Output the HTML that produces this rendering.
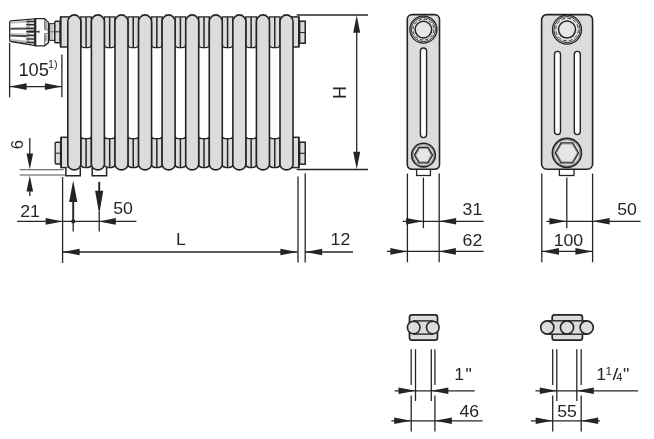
<!DOCTYPE html>
<html><head><meta charset="utf-8"><title>Radiator dimensions</title>
<style>
html,body{margin:0;padding:0;background:#fff;}
body{width:654px;height:439px;overflow:hidden;font-family:"Liberation Sans",sans-serif;}
svg{display:block}
svg{filter:grayscale(1)}
text{font-family:"Liberation Sans",sans-serif;fill:#262626;}
</style></head><body>
<svg width="654" height="439" viewBox="0 0 654 439">
<rect width="654" height="439" fill="#fff"/>
<rect x="60.6" y="16.9" width="9" height="30.1" fill="#dcdcdc" stroke="#262425" stroke-width="1.45"/>
<rect x="59.8" y="16.9" width="1.6" height="30.1" fill="#262425"/>
<rect x="61.2" y="137.3" width="9" height="30.299999999999983" fill="#dcdcdc" stroke="#262425" stroke-width="1.45"/>
<rect x="60.2" y="137.3" width="1.8" height="30.299999999999983" fill="#262425"/>
<rect x="290.02" y="16.9" width="8.8" height="30.1" fill="#dcdcdc" stroke="#262425" stroke-width="1.45"/>
<rect x="298.02" y="16.9" width="1.6" height="30.1" fill="#262425"/>
<rect x="290.02" y="137.3" width="8.8" height="30.299999999999983" fill="#dcdcdc" stroke="#262425" stroke-width="1.45"/>
<rect x="298.02" y="137.3" width="1.6" height="30.299999999999983" fill="#262425"/>
<rect x="299.62" y="21.2" width="5.6" height="22" fill="#dcdcdc" stroke="#262425" stroke-width="1.5"/>
<line x1="299.62" y1="32.5" x2="305.21999999999997" y2="32.5" stroke="#262425" stroke-width="1.1"/>
<rect x="299.62" y="142.2" width="5.6" height="22" fill="#dcdcdc" stroke="#262425" stroke-width="1.5"/>
<line x1="299.62" y1="153.3" x2="305.21999999999997" y2="153.3" stroke="#262425" stroke-width="1.1"/>
<rect x="55.2" y="142.2" width="5.4" height="21.8" rx="1" fill="#dcdcdc" stroke="#262425" stroke-width="1.35"/>
<line x1="55.2" y1="153.2" x2="60.4" y2="153.2" stroke="#262425" stroke-width="1"/>
<path d="M80.8,16.9 H91.38 V45.6 Q90.58,47.6 88.38,47.6 H83.8 Q81.6,47.6 80.8,45.6 Z" fill="#dcdcdc" stroke="#262425" stroke-width="1.4"/>
<line x1="86.09" y1="16.9" x2="86.09" y2="47.9" stroke="#262425" stroke-width="1.5"/>
<path d="M80.8,165.4 Q81.8,167.6 86.09,167.6 Q90.38,167.6 91.38,165.4 V137.3 L89.17999999999999,138.60000000000002 H83.0 L80.8,137.3 Z" fill="#dcdcdc" stroke="#262425" stroke-width="1.4"/>
<line x1="86.09" y1="138.3" x2="86.09" y2="167.6" stroke="#262425" stroke-width="1.5"/>
<path d="M104.38,16.9 H114.96 V45.6 Q114.16,47.6 111.96,47.6 H107.38 Q105.17999999999999,47.6 104.38,45.6 Z" fill="#dcdcdc" stroke="#262425" stroke-width="1.4"/>
<line x1="109.66999999999999" y1="16.9" x2="109.66999999999999" y2="47.9" stroke="#262425" stroke-width="1.5"/>
<path d="M104.38,165.4 Q105.38,167.6 109.66999999999999,167.6 Q113.96,167.6 114.96,165.4 V137.3 L112.75999999999999,138.60000000000002 H106.58 L104.38,137.3 Z" fill="#dcdcdc" stroke="#262425" stroke-width="1.4"/>
<line x1="109.66999999999999" y1="138.3" x2="109.66999999999999" y2="167.6" stroke="#262425" stroke-width="1.5"/>
<path d="M127.96,16.9 H138.54 V45.6 Q137.73999999999998,47.6 135.54,47.6 H130.95999999999998 Q128.76,47.6 127.96,45.6 Z" fill="#dcdcdc" stroke="#262425" stroke-width="1.4"/>
<line x1="133.25" y1="16.9" x2="133.25" y2="47.9" stroke="#262425" stroke-width="1.5"/>
<path d="M127.96,165.4 Q128.95999999999998,167.6 133.25,167.6 Q137.54,167.6 138.54,165.4 V137.3 L136.34,138.60000000000002 H130.16 L127.96,137.3 Z" fill="#dcdcdc" stroke="#262425" stroke-width="1.4"/>
<line x1="133.25" y1="138.3" x2="133.25" y2="167.6" stroke="#262425" stroke-width="1.5"/>
<path d="M151.54,16.9 H162.12 V45.6 Q161.32,47.6 159.12,47.6 H154.54 Q152.34,47.6 151.54,45.6 Z" fill="#dcdcdc" stroke="#262425" stroke-width="1.4"/>
<line x1="156.82999999999998" y1="16.9" x2="156.82999999999998" y2="47.9" stroke="#262425" stroke-width="1.5"/>
<path d="M151.54,165.4 Q152.54,167.6 156.82999999999998,167.6 Q161.12,167.6 162.12,165.4 V137.3 L159.92000000000002,138.60000000000002 H153.73999999999998 L151.54,137.3 Z" fill="#dcdcdc" stroke="#262425" stroke-width="1.4"/>
<line x1="156.82999999999998" y1="138.3" x2="156.82999999999998" y2="167.6" stroke="#262425" stroke-width="1.5"/>
<path d="M175.12,16.9 H185.7 V45.6 Q184.89999999999998,47.6 182.7,47.6 H178.12 Q175.92000000000002,47.6 175.12,45.6 Z" fill="#dcdcdc" stroke="#262425" stroke-width="1.4"/>
<line x1="180.41" y1="16.9" x2="180.41" y2="47.9" stroke="#262425" stroke-width="1.5"/>
<path d="M175.12,165.4 Q176.12,167.6 180.41,167.6 Q184.7,167.6 185.7,165.4 V137.3 L183.5,138.60000000000002 H177.32 L175.12,137.3 Z" fill="#dcdcdc" stroke="#262425" stroke-width="1.4"/>
<line x1="180.41" y1="138.3" x2="180.41" y2="167.6" stroke="#262425" stroke-width="1.5"/>
<path d="M198.7,16.9 H209.27999999999997 V45.6 Q208.47999999999996,47.6 206.27999999999997,47.6 H201.7 Q199.5,47.6 198.7,45.6 Z" fill="#dcdcdc" stroke="#262425" stroke-width="1.4"/>
<line x1="203.98999999999998" y1="16.9" x2="203.98999999999998" y2="47.9" stroke="#262425" stroke-width="1.5"/>
<path d="M198.7,165.4 Q199.7,167.6 203.98999999999998,167.6 Q208.27999999999997,167.6 209.27999999999997,165.4 V137.3 L207.07999999999998,138.60000000000002 H200.89999999999998 L198.7,137.3 Z" fill="#dcdcdc" stroke="#262425" stroke-width="1.4"/>
<line x1="203.98999999999998" y1="138.3" x2="203.98999999999998" y2="167.6" stroke="#262425" stroke-width="1.5"/>
<path d="M222.27999999999997,16.9 H232.86 V45.6 Q232.06,47.6 229.86,47.6 H225.27999999999997 Q223.07999999999998,47.6 222.27999999999997,45.6 Z" fill="#dcdcdc" stroke="#262425" stroke-width="1.4"/>
<line x1="227.57" y1="16.9" x2="227.57" y2="47.9" stroke="#262425" stroke-width="1.5"/>
<path d="M222.27999999999997,165.4 Q223.27999999999997,167.6 227.57,167.6 Q231.86,167.6 232.86,165.4 V137.3 L230.66000000000003,138.60000000000002 H224.47999999999996 L222.27999999999997,137.3 Z" fill="#dcdcdc" stroke="#262425" stroke-width="1.4"/>
<line x1="227.57" y1="138.3" x2="227.57" y2="167.6" stroke="#262425" stroke-width="1.5"/>
<path d="M245.86,16.9 H256.44 V45.6 Q255.64,47.6 253.44,47.6 H248.86 Q246.66000000000003,47.6 245.86,45.6 Z" fill="#dcdcdc" stroke="#262425" stroke-width="1.4"/>
<line x1="251.15" y1="16.9" x2="251.15" y2="47.9" stroke="#262425" stroke-width="1.5"/>
<path d="M245.86,165.4 Q246.86,167.6 251.15,167.6 Q255.44,167.6 256.44,165.4 V137.3 L254.24,138.60000000000002 H248.06 L245.86,137.3 Z" fill="#dcdcdc" stroke="#262425" stroke-width="1.4"/>
<line x1="251.15" y1="138.3" x2="251.15" y2="167.6" stroke="#262425" stroke-width="1.5"/>
<path d="M269.44,16.9 H280.02 V45.6 Q279.21999999999997,47.6 277.02,47.6 H272.44 Q270.24,47.6 269.44,45.6 Z" fill="#dcdcdc" stroke="#262425" stroke-width="1.4"/>
<line x1="274.73" y1="16.9" x2="274.73" y2="47.9" stroke="#262425" stroke-width="1.5"/>
<path d="M269.44,165.4 Q270.44,167.6 274.73,167.6 Q279.02,167.6 280.02,165.4 V137.3 L277.82,138.60000000000002 H271.64 L269.44,137.3 Z" fill="#dcdcdc" stroke="#262425" stroke-width="1.4"/>
<line x1="274.73" y1="138.3" x2="274.73" y2="167.6" stroke="#262425" stroke-width="1.5"/>
<path d="M65.9,167.6 V175.7 H80.30000000000001 V167.6" fill="#fff" stroke="#262425" stroke-width="1.5"/>
<path d="M92.2,167.6 V175.7 H106.60000000000001 V167.6" fill="#fff" stroke="#262425" stroke-width="1.5"/>
<path d="M67.8,164.3 V22.0 A6.5,7.1 0 0 1 80.8,22.0 V164.3 A6.5,5.6 0 0 1 67.8,164.3 Z" fill="#dcdcdc" stroke="#262425" stroke-width="1.6"/>
<path d="M91.38,164.3 V22.0 A6.5,7.1 0 0 1 104.38,22.0 V164.3 A6.5,5.6 0 0 1 91.38,164.3 Z" fill="#dcdcdc" stroke="#262425" stroke-width="1.6"/>
<path d="M114.96,164.3 V22.0 A6.5,7.1 0 0 1 127.96,22.0 V164.3 A6.5,5.6 0 0 1 114.96,164.3 Z" fill="#dcdcdc" stroke="#262425" stroke-width="1.6"/>
<path d="M138.54,164.3 V22.0 A6.5,7.1 0 0 1 151.54,22.0 V164.3 A6.5,5.6 0 0 1 138.54,164.3 Z" fill="#dcdcdc" stroke="#262425" stroke-width="1.6"/>
<path d="M162.12,164.3 V22.0 A6.5,7.1 0 0 1 175.12,22.0 V164.3 A6.5,5.6 0 0 1 162.12,164.3 Z" fill="#dcdcdc" stroke="#262425" stroke-width="1.6"/>
<path d="M185.7,164.3 V22.0 A6.5,7.1 0 0 1 198.7,22.0 V164.3 A6.5,5.6 0 0 1 185.7,164.3 Z" fill="#dcdcdc" stroke="#262425" stroke-width="1.6"/>
<path d="M209.27999999999997,164.3 V22.0 A6.5,7.1 0 0 1 222.27999999999997,22.0 V164.3 A6.5,5.6 0 0 1 209.27999999999997,164.3 Z" fill="#dcdcdc" stroke="#262425" stroke-width="1.6"/>
<path d="M232.86,164.3 V22.0 A6.5,7.1 0 0 1 245.86,22.0 V164.3 A6.5,5.6 0 0 1 232.86,164.3 Z" fill="#dcdcdc" stroke="#262425" stroke-width="1.6"/>
<path d="M256.44,164.3 V22.0 A6.5,7.1 0 0 1 269.44,22.0 V164.3 A6.5,5.6 0 0 1 256.44,164.3 Z" fill="#dcdcdc" stroke="#262425" stroke-width="1.6"/>
<path d="M280.02,164.3 V22.0 A6.5,7.1 0 0 1 293.02,22.0 V164.3 A6.5,5.6 0 0 1 280.02,164.3 Z" fill="#dcdcdc" stroke="#262425" stroke-width="1.6"/>
<path d="M10.8,20.9 Q9.7,21.1 9.7,22.3 V40.2 Q9.7,41.4 10.8,41.6 L35,45.5 V18.9 Z" fill="#fff" stroke="#262425" stroke-width="1.3"/>
<path d="M10.6,22.0 L27,20.6 V22.6 L10.6,23.8 Z" fill="#bdbdbd"/>
<path d="M10.6,33.0 L27,33.4 V34.6 L10.6,34.2 Z" fill="#c4c4c4"/>
<path d="M10.6,39.0 L27,40.8 V42.8 L10.6,40.6 Z" fill="#b4b4b4"/>
<path d="M10.4,27.8 L27,27.4 V29.6 L10.4,29.8 Z" fill="#4d4d4d"/>
<path d="M10.4,34.4 L27,35.0 V37.2 L10.4,36.4 Z" fill="#4d4d4d"/>
<line x1="10.4" y1="41.0" x2="27" y2="43.4" stroke="#3a3a3a" stroke-width="0.8"/>
<path d="M26.6,20.2 L34.4,19.6 V44.8 L26.6,43.6 Z" fill="#a8a8a8"/>
<line x1="26.2" y1="21.6" x2="34.2" y2="21.6" stroke="#2e2e2e" stroke-width="1.2"/>
<line x1="26.2" y1="24.6" x2="34.2" y2="24.6" stroke="#2e2e2e" stroke-width="1.2"/>
<line x1="26.2" y1="28.4" x2="34.2" y2="28.4" stroke="#2e2e2e" stroke-width="1.2"/>
<line x1="26.2" y1="31.6" x2="34.2" y2="31.6" stroke="#2e2e2e" stroke-width="1.2"/>
<line x1="26.2" y1="35.4" x2="34.2" y2="35.4" stroke="#2e2e2e" stroke-width="1.2"/>
<line x1="26.2" y1="39.0" x2="34.2" y2="39.0" stroke="#2e2e2e" stroke-width="1.2"/>
<line x1="26.2" y1="42.4" x2="34.2" y2="42.4" stroke="#2e2e2e" stroke-width="1.2"/>
<line x1="29.5" y1="23.1" x2="34.0" y2="23.1" stroke="#f4f4f4" stroke-width="1.0"/>
<line x1="29.5" y1="26.5" x2="34.0" y2="26.5" stroke="#f4f4f4" stroke-width="1.0"/>
<line x1="29.5" y1="33.5" x2="34.0" y2="33.5" stroke="#f4f4f4" stroke-width="1.0"/>
<line x1="29.5" y1="37.2" x2="34.0" y2="37.2" stroke="#f4f4f4" stroke-width="1.0"/>
<line x1="29.5" y1="40.7" x2="34.0" y2="40.7" stroke="#f4f4f4" stroke-width="1.0"/>
<line x1="28.4" y1="31.6" x2="34.6" y2="31.6" stroke="#262425" stroke-width="1.6"/>
<path d="M35.1,18.6 H44.6 L48.5,22.6 V42.6 L44.6,45.8 H35.1 Z" fill="#fff" stroke="#262425" stroke-width="1.3"/>
<line x1="35.3" y1="18.6" x2="35.3" y2="45.8" stroke="#262425" stroke-width="2.0"/>
<rect x="45" y="21.8" width="2.4" height="7.2" fill="#b0b0b0"/>
<rect x="45" y="34.8" width="2.4" height="6.6" fill="#b0b0b0"/>
<line x1="44.8" y1="19.4" x2="44.8" y2="29.6" stroke="#444" stroke-width="0.9"/>
<line x1="44.8" y1="33.6" x2="44.8" y2="45.0" stroke="#444" stroke-width="0.9"/>
<line x1="44.8" y1="29.8" x2="48.2" y2="29.8" stroke="#555" stroke-width="0.8"/>
<line x1="44.8" y1="33.6" x2="48.2" y2="33.6" stroke="#555" stroke-width="0.8"/>
<line x1="36.2" y1="31.7" x2="39.0" y2="31.7" stroke="#262425" stroke-width="1.2"/>
<line x1="38.9" y1="30.6" x2="38.9" y2="32.8" stroke="#262425" stroke-width="1.2"/>
<rect x="49.6" y="23.6" width="5" height="16.8" fill="#e0e0e0" stroke="#333" stroke-width="1.1"/>
<line x1="49.6" y1="31.7" x2="54.6" y2="31.7" stroke="#666" stroke-width="0.8"/>
<line x1="52.0" y1="23.6" x2="52.0" y2="40.4" stroke="#888" stroke-width="0.7"/>
<rect x="54.8" y="21.2" width="5.2" height="21.6" rx="1" fill="#dcdcdc" stroke="#262425" stroke-width="1.45"/>
<line x1="54.8" y1="31.8" x2="60" y2="31.8" stroke="#262425" stroke-width="1"/>
<line x1="9.6" y1="43" x2="9.6" y2="97.3" stroke="#262626" stroke-width="1.3"/>
<line x1="61.9" y1="54.5" x2="61.9" y2="97.3" stroke="#262626" stroke-width="1.3"/>
<line x1="9.6" y1="86.6" x2="61.9" y2="86.6" stroke="#262626" stroke-width="1.3"/>
<polygon points="9.6,86.6 26.6,83.3 26.6,89.89999999999999" fill="#262425"/>
<polygon points="61.9,86.6 44.9,83.3 44.9,89.89999999999999" fill="#262425"/>
<text transform="translate(18.4,75.5) scale(1.04,1)" font-size="17.6" text-anchor="start" >105</text>
<text transform="translate(47.9,68.0) scale(1.08,1)" font-size="10" text-anchor="start" >1)</text>
<line x1="19.7" y1="169.8" x2="63.6" y2="169.8" stroke="#505050" stroke-width="1.1"/>
<line x1="19.7" y1="175.0" x2="65" y2="175.0" stroke="#505050" stroke-width="1.1"/>
<line x1="29.8" y1="138" x2="29.8" y2="160" stroke="#262626" stroke-width="1.3"/>
<polygon points="29.8,169.6 26.5,153.6 33.1,153.6" fill="#262425"/>
<line x1="29.8" y1="186" x2="29.8" y2="196" stroke="#262626" stroke-width="1.3"/>
<polygon points="29.8,175.4 26.5,191.4 33.1,191.4" fill="#262425"/>
<text transform="translate(23,149.2) rotate(-90)" font-size="16.8">6</text>
<line x1="62.6" y1="177" x2="62.6" y2="263" stroke="#262626" stroke-width="1.3"/>
<line x1="17.2" y1="221.4" x2="136.4" y2="221.4" stroke="#262626" stroke-width="1.3"/>
<polygon points="62.6,221.4 45.6,218.1 45.6,224.70000000000002" fill="#262425"/>
<polygon points="98.8,221.4 115.8,218.1 115.8,224.70000000000002" fill="#262425"/>
<circle cx="73.2" cy="221.4" r="2.1" fill="#262425"/>
<text transform="translate(20.2,217.2) scale(1.08,1)" font-size="16.4" text-anchor="start" >21</text>
<text transform="translate(113.2,214) scale(1.08,1)" font-size="16.4" text-anchor="start" >50</text>
<line x1="73.2" y1="200" x2="73.2" y2="221.4" stroke="#262425" stroke-width="1.9"/>
<line x1="73.2" y1="221" x2="73.2" y2="231.6" stroke="#262626" stroke-width="1.3"/>
<polygon points="73.2,180.6 69.10000000000001,202.1 77.3,202.1" fill="#262425"/>
<line x1="99.2" y1="181.8" x2="99.2" y2="193" stroke="#262425" stroke-width="1.9"/>
<line x1="99.2" y1="212" x2="99.2" y2="231.6" stroke="#262626" stroke-width="1.3"/>
<polygon points="99.2,214.3 95.10000000000001,190.8 103.3,190.8" fill="#262425"/>
<line x1="62.6" y1="252.0" x2="297.4" y2="252.0" stroke="#262626" stroke-width="1.3"/>
<polygon points="62.6,252.0 79.6,248.7 79.6,255.3" fill="#262425"/>
<polygon points="297.4,252.0 280.4,248.7 280.4,255.3" fill="#262425"/>
<text transform="translate(180.8,245.2) scale(1.08,1)" font-size="16.4" text-anchor="middle" >L</text>
<line x1="298.0" y1="176.5" x2="298.0" y2="262.4" stroke="#262626" stroke-width="1.3"/>
<line x1="305.2" y1="173.2" x2="305.2" y2="262.4" stroke="#262626" stroke-width="1.3"/>
<line x1="305.2" y1="252.0" x2="353" y2="252.0" stroke="#262626" stroke-width="1.3"/>
<polygon points="305.2,252.0 322.2,248.7 322.2,255.3" fill="#262425"/>
<text transform="translate(330.6,244.8) scale(1.08,1)" font-size="16.4" text-anchor="start" >12</text>
<line x1="296.7" y1="15" x2="368" y2="15" stroke="#262626" stroke-width="1.3"/>
<line x1="296.7" y1="169.5" x2="368" y2="169.5" stroke="#262626" stroke-width="1.3"/>
<line x1="356.7" y1="30" x2="356.7" y2="155" stroke="#262626" stroke-width="1.3"/>
<polygon points="356.7,15.2 353.2,32.7 360.2,32.7" fill="#262425"/>
<polygon points="356.7,169.3 353.2,151.8 360.2,151.8" fill="#262425"/>
<text transform="translate(346.2,99) rotate(-90)" font-size="18">H</text>
<rect x="416.6" y="167" width="13.8" height="8.5" fill="#fff" stroke="#262425" stroke-width="1.3"/>
<rect x="407.3" y="14.6" width="32.2" height="154.6" rx="4.6" fill="#dcdcdc" stroke="#262425" stroke-width="1.6"/>
<circle cx="423.4" cy="29.6" r="13.5" fill="#dcdcdc" stroke="#262425" stroke-width="1.3"/>
<circle cx="423.4" cy="29.6" r="12.1" fill="#e6e6e6" stroke="#262425" stroke-width=".9"/>
<circle cx="423.4" cy="29.6" r="10.4" fill="none" stroke="#3a3a3a" stroke-width="1" stroke-dasharray="3.59 1.85"/>
<circle cx="423.4" cy="29.6" r="8.3" fill="#e6e6e6" stroke="#262425" stroke-width="1.5"/>
<rect x="420.4" y="48" width="6.2" height="89.6" rx="3.1" fill="#fff" stroke="#262425" stroke-width="1.4"/>
<circle cx="423.5" cy="155.1" r="11.8" fill="#dcdcdc" stroke="#262425" stroke-width="1.6"/>
<circle cx="423.5" cy="155.1" r="10.5" fill="none" stroke="#555" stroke-width=".6"/>
<polygon points="432.50,155.10 428.00,162.89 419.00,162.89 414.50,155.10 419.00,147.31 428.00,147.31" fill="#e6e6e6" stroke="#262425" stroke-width="1.3"/>
<polygon points="431.20,155.10 427.35,161.77 419.65,161.77 415.80,155.10 419.65,148.43 427.35,148.43" fill="none" stroke="#666" stroke-width=".6"/>
<rect x="559.4" y="167" width="14.6" height="8.5" fill="#fff" stroke="#262425" stroke-width="1.3"/>
<rect x="541.6" y="14.6" width="51" height="154.7" rx="5.2" fill="#dcdcdc" stroke="#262425" stroke-width="1.6"/>
<circle cx="567.0" cy="29.6" r="14.5" fill="#dcdcdc" stroke="#262425" stroke-width="1.3"/>
<circle cx="567.0" cy="29.6" r="13.1" fill="#e6e6e6" stroke="#262425" stroke-width=".9"/>
<circle cx="567.0" cy="29.6" r="11.3" fill="none" stroke="#3a3a3a" stroke-width="1" stroke-dasharray="3.90 2.01"/>
<circle cx="567.0" cy="29.6" r="8.5" fill="#e6e6e6" stroke="#262425" stroke-width="1.5"/>
<rect x="554.5" y="51.4" width="6" height="83.2" rx="3" fill="#fff" stroke="#262425" stroke-width="1.4"/>
<rect x="574.3" y="51.4" width="6" height="83.2" rx="3" fill="#fff" stroke="#262425" stroke-width="1.4"/>
<circle cx="566.9" cy="152.9" r="14.5" fill="#dcdcdc" stroke="#262425" stroke-width="1.6"/>
<circle cx="566.9" cy="152.9" r="13.2" fill="none" stroke="#555" stroke-width=".6"/>
<polygon points="578.50,152.90 572.70,162.95 561.10,162.95 555.30,152.90 561.10,142.85 572.70,142.85" fill="#e6e6e6" stroke="#262425" stroke-width="1.3"/>
<polygon points="577.20,152.90 572.05,161.82 561.75,161.82 556.60,152.90 561.75,143.98 572.05,143.98" fill="none" stroke="#666" stroke-width=".6"/>
<line x1="407.4" y1="173.6" x2="407.4" y2="262.3" stroke="#262626" stroke-width="1.3"/>
<line x1="423.4" y1="177.6" x2="423.4" y2="228.2" stroke="#262626" stroke-width="1.3"/>
<line x1="439.2" y1="173.6" x2="439.2" y2="262.3" stroke="#262626" stroke-width="1.3"/>
<line x1="402.8" y1="221.3" x2="483.6" y2="221.3" stroke="#262626" stroke-width="1.3"/>
<polygon points="423.1,221.3 406.1,218.0 406.1,224.60000000000002" fill="#262425"/>
<polygon points="439.1,221.3 456.1,218.0 456.1,224.60000000000002" fill="#262425"/>
<line x1="386.8" y1="251.4" x2="483.6" y2="251.4" stroke="#262626" stroke-width="1.3"/>
<polygon points="407.3,251.4 390.3,248.1 390.3,254.70000000000002" fill="#262425"/>
<polygon points="438.9,251.4 455.9,248.1 455.9,254.70000000000002" fill="#262425"/>
<text transform="translate(462.6,214.6) scale(1.08,1)" font-size="16.4" text-anchor="start" >31</text>
<text transform="translate(462.6,245.8) scale(1.08,1)" font-size="16.4" text-anchor="start" >62</text>
<line x1="541.8" y1="173.6" x2="541.8" y2="262.3" stroke="#262626" stroke-width="1.3"/>
<line x1="566.8" y1="177.6" x2="566.8" y2="228.2" stroke="#262626" stroke-width="1.3"/>
<line x1="592.6" y1="173.6" x2="592.6" y2="262.3" stroke="#262626" stroke-width="1.3"/>
<line x1="546.5" y1="221.3" x2="640.6" y2="221.3" stroke="#262626" stroke-width="1.3"/>
<polygon points="566.4,221.3 549.4,218.0 549.4,224.60000000000002" fill="#262425"/>
<polygon points="592.6,221.3 609.6,218.0 609.6,224.60000000000002" fill="#262425"/>
<line x1="542" y1="251.4" x2="592.4" y2="251.4" stroke="#262626" stroke-width="1.3"/>
<polygon points="542.0,251.4 559.0,248.1 559.0,254.70000000000002" fill="#262425"/>
<polygon points="592.4,251.4 575.4,248.1 575.4,254.70000000000002" fill="#262425"/>
<text transform="translate(617.2,214.6) scale(1.08,1)" font-size="16.4" text-anchor="start" >50</text>
<text transform="translate(568.4,245.8) scale(1.08,1)" font-size="16.4" text-anchor="middle" >100</text>
<rect x="409.5" y="314.8" width="28" height="25.3" rx="2.4" fill="#dcdcdc" stroke="#262425" stroke-width="1.7"/>
<rect x="413.7" y="320.9" width="19" height="13.2" fill="#dcdcdc" stroke="#262425" stroke-width="1.4"/>
<circle cx="413.7" cy="327.5" r="6.3" fill="#dcdcdc" stroke="#262425" stroke-width="1.6"/>
<circle cx="432.8" cy="327.5" r="6.3" fill="#dcdcdc" stroke="#262425" stroke-width="1.6"/>
<rect x="552.2" y="314.9" width="30.2" height="25.2" rx="2.4" fill="#dcdcdc" stroke="#262425" stroke-width="1.7"/>
<rect x="547.3" y="320.8" width="39.4" height="13.4" fill="#dcdcdc" stroke="#262425" stroke-width="1.4"/>
<circle cx="547.3" cy="327.5" r="6.6" fill="#dcdcdc" stroke="#262425" stroke-width="1.6"/>
<circle cx="567.0" cy="327.5" r="6.6" fill="#dcdcdc" stroke="#262425" stroke-width="1.6"/>
<circle cx="586.7" cy="327.5" r="6.6" fill="#dcdcdc" stroke="#262425" stroke-width="1.6"/>
<line x1="411.2" y1="349.2" x2="411.2" y2="385" stroke="#262626" stroke-width="1.3"/>
<line x1="411.2" y1="395.4" x2="411.2" y2="431.4" stroke="#262626" stroke-width="1.3"/>
<line x1="434.9" y1="349.2" x2="434.9" y2="385" stroke="#262626" stroke-width="1.3"/>
<line x1="434.9" y1="395.4" x2="434.9" y2="431.4" stroke="#262626" stroke-width="1.3"/>
<line x1="415.5" y1="349.2" x2="415.5" y2="401" stroke="#262626" stroke-width="1.3"/>
<line x1="431.3" y1="349.2" x2="431.3" y2="401" stroke="#262626" stroke-width="1.3"/>
<line x1="394.7" y1="390.8" x2="474.7" y2="390.8" stroke="#262626" stroke-width="1.3"/>
<polygon points="415.5,390.8 398.5,387.5 398.5,394.1" fill="#262425"/>
<polygon points="431.3,390.8 448.3,387.5 448.3,394.1" fill="#262425"/>
<line x1="391.3" y1="420.8" x2="482.6" y2="420.8" stroke="#262626" stroke-width="1.3"/>
<polygon points="411.2,420.8 394.2,417.5 394.2,424.1" fill="#262425"/>
<polygon points="434.9,420.8 451.9,417.5 451.9,424.1" fill="#262425"/>
<text transform="translate(454.2,380) scale(1.08,1)" font-size="16.4" text-anchor="start" >1</text>
<text transform="translate(465.6,380) scale(1.08,1)" font-size="16.4" text-anchor="start" >"</text>
<text transform="translate(459.4,416.6) scale(1.08,1)" font-size="16.4" text-anchor="start" >46</text>
<line x1="552.7" y1="349.2" x2="552.7" y2="385" stroke="#262626" stroke-width="1.3"/>
<line x1="552.7" y1="395.4" x2="552.7" y2="431.4" stroke="#262626" stroke-width="1.3"/>
<line x1="581.2" y1="349.2" x2="581.2" y2="385" stroke="#262626" stroke-width="1.3"/>
<line x1="581.2" y1="395.4" x2="581.2" y2="431.4" stroke="#262626" stroke-width="1.3"/>
<line x1="556.8" y1="349.2" x2="556.8" y2="401" stroke="#262626" stroke-width="1.3"/>
<line x1="576.8" y1="349.2" x2="576.8" y2="401" stroke="#262626" stroke-width="1.3"/>
<line x1="535.5" y1="390.8" x2="638" y2="390.8" stroke="#262626" stroke-width="1.3"/>
<polygon points="556.8,390.8 539.8,387.5 539.8,394.1" fill="#262425"/>
<polygon points="576.8,390.8 593.8,387.5 593.8,394.1" fill="#262425"/>
<line x1="531" y1="420.8" x2="600" y2="420.8" stroke="#262626" stroke-width="1.3"/>
<polygon points="552.7,420.8 535.7,417.5 535.7,424.1" fill="#262425"/>
<polygon points="581.2,420.8 598.2,417.5 598.2,424.1" fill="#262425"/>
<text transform="translate(596.2,380.3) scale(1.08,1)" font-size="16.4" text-anchor="start" >1</text>
<text transform="translate(605.6,374.8) scale(1.08,1)" font-size="10.8" text-anchor="start" >1</text>
<text transform="translate(612.4,380.3) scale(1.2,1)" font-size="17.4" text-anchor="start" >/</text>
<text transform="translate(616.2,380.5) scale(1.08,1)" font-size="10.4" text-anchor="start" >4</text>
<text transform="translate(623.0,380.3) scale(1.08,1)" font-size="16.4" text-anchor="start" >"</text>
<text transform="translate(567,416.6) scale(1.08,1)" font-size="16.4" text-anchor="middle" >55</text>
</svg>
</body></html>
